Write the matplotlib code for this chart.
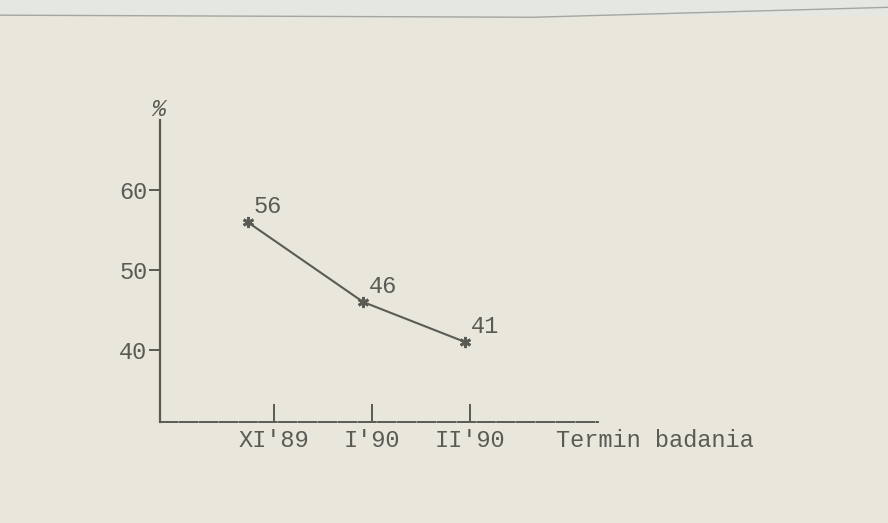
import numpy as np
import matplotlib
matplotlib.use("Agg")
import matplotlib.pyplot as plt
from matplotlib.lines import Line2D
from matplotlib.patches import Rectangle

# survey dates and percentages
terms = ["XI'89", "I'90", "II'90"]
values = [56, 46, 41]
y_ticks = [40, 50, 60]

ink = "#5b5b55"
paper = "#e9e6dc"

plt.rcParams["font.family"] = ["Liberation Mono", "DejaVu Sans Mono"]

fig = plt.figure(figsize=(8.88, 5.23), dpi=100)
fig.patch.set_facecolor(paper)
# lighter strip at the top of the scan, with the page edge
fig.add_artist(Rectangle((0, 0.97), 1, 0.03, transform=fig.transFigure,
                         facecolor="#e5e7e2", edgecolor="none", zorder=0))
fig.add_artist(Line2D([0.0, 0.6, 1.0], [0.971, 0.967, 0.986], transform=fig.transFigure,
                      color="#a4a6a2", lw=1.0))

ax = fig.add_axes([0.1802, 0.1931, 0.4932, 0.5774])
ax.set_facecolor("none")

x = np.arange(len(terms))
# points were typed a little left of the tick marks
shift = np.array([-0.27, -0.09, -0.05])
ax.plot(x + shift, values, color=ink, lw=1.5, marker=(6, 2, 0),
        markersize=8, markeredgewidth=2, markeredgecolor=ink)
for xi, v in zip(x + shift, values):
    ax.annotate(str(v), (xi, v), xytext=(4, 3), textcoords="offset points",
                fontsize=17, color=ink, ha="left", va="bottom")

ax.set_xlim(-1.163, 3.306)
ax.set_ylim(31, 68.75)

for s in ["top", "right"]:
    ax.spines[s].set_visible(False)
ax.spines["left"].set_color(ink)
ax.spines["left"].set_linewidth(1.6)
ax.spines["bottom"].set_color(ink)
ax.spines["bottom"].set_linewidth(1.4)
ax.spines["bottom"].set_linestyle((0, (9, 1.2)))

ax.set_xticks(x)
ax.set_xticklabels(terms)
ax.set_yticks(y_ticks)
ax.tick_params(axis="x", direction="in", length=13, width=1.4, color=ink,
               labelcolor=ink, labelsize=17, pad=5)
ax.tick_params(axis="y", direction="out", length=8, width=1.4, color=ink,
               labelcolor=ink, labelsize=17, pad=1)

fig.text(158 / 888, 1 - 121 / 523, "%", color=ink, fontsize=17,
         ha="center", va="bottom", style="italic")
fig.text(556 / 888, 1 - 452 / 523, "Termin badania", color=ink, fontsize=17,
         ha="left", va="bottom")

fig.savefig("out.png", dpi=100, facecolor=paper)
